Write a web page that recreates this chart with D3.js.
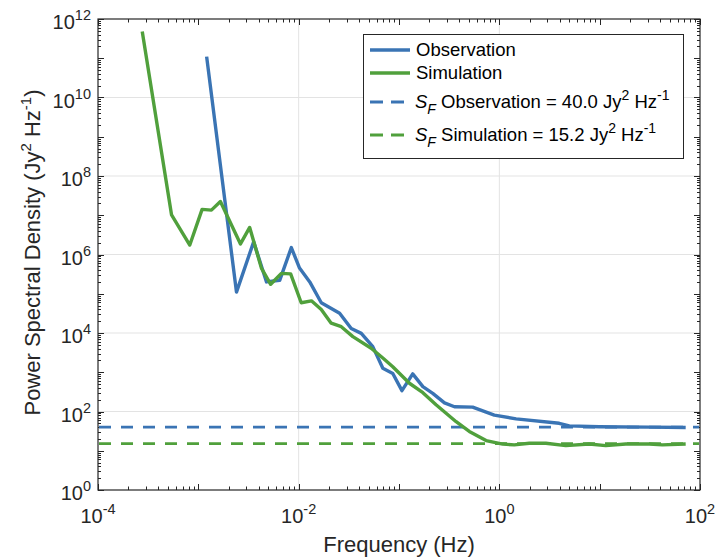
<!DOCTYPE html>
<html>
  <head>
    <meta charset="utf-8">
    <script src="https://d3js.org/d3.v7.min.js"></script>
    <title></title>
    <style>
    body {
      margin: 0;
      background-color: #fff;
    }
    svg {
      display: block;
      font-family: "Liberation Sans", Arial, sans-serif;
    }
    .line {
      fill: none;
      stroke-width: 3.4px;
      stroke-linejoin: round;
    }
    </style>
  </head>
  <body>
    <script type="text/javascript">
      // observation PSD (Hz, Jy^2/Hz)
      let obsFreq = [1.21e-3, 2.4e-3, 3.56e-3, 4.78e-3, 6.47e-3, 8.45e-3, 1.02e-2, 1.29e-2, 1.68e-2, 2.56e-2,
                     3.34e-2, 4.21e-2, 5.48e-2, 6.9e-2, 8.67e-2, 0.107, 0.137, 0.173, 0.217, 0.284,
                     0.357, 0.542, 0.891, 1.47, 3.95, 4.98, 9.9, 31.1, 72]
      let obsPsd = [1.1e11, 1.1e5, 2.1e6, 2.0e5, 2.2e5, 1.5e6, 4.5e5, 2.0e5, 5.9e4, 3.2e4,
                    1.3e4, 9.8e3, 4.5e3, 1.26e3, 930, 340, 910, 430, 290, 166,
                    132, 129, 81, 65, 50, 43, 41, 40, 39]
      // simulation PSD
      let simFreq = [2.76e-4, 5.41e-4, 8.22e-4, 1.09e-3, 1.35e-3, 1.66e-3, 2.63e-3, 3.25e-3, 4.25e-3, 5.26e-3,
                     6.72e-3, 8.32e-3, 1.06e-2, 1.34e-2, 1.68e-2, 2.11e-2, 2.66e-2, 3.47e-2, 5.28e-2, 6.9e-2,
                     8.67e-2, 0.127, 0.173, 0.234, 0.371, 0.502, 0.738, 1.08, 1.41, 1.99,
                     2.91, 4.6, 7.87, 11.5, 18.2, 31.1, 42.2, 72]
      let simPsd = [4.8e11, 1.02e7, 1.74e6, 1.41e7, 1.35e7, 2.24e7, 1.86e6, 4.9e6, 4.5e5, 1.74e5,
                    3.3e5, 3.2e5, 5.9e4, 6.6e4, 3.98e4, 1.78e4, 1.45e4, 8.1e3, 4.1e3, 2.3e3,
                    1.38e3, 525, 302, 148, 55, 31, 18.2, 14.8, 14.1, 15.5,
                    15.5, 13.5, 14.8, 13.5, 14.8, 14.8, 14.1, 14.8]
      let sfObs = 40.0
      let sfSim = 15.2
      let xTickExp = [-4, -2, 0, 2]
      let yTickExp = [0, 2, 4, 6, 8, 10, 12]

      let w = 717
      let h = 558
      let m = {left: 98, right: 700, top: 19, bottom: 490}
      let blue = '#3a74b4'
      let green = '#50a03c'
      let ink = '#262626'

      let svg = d3.select('body')
                  .append('svg')
                  .attr('width', w)
                  .attr('height', h)

      let xScale = d3.scaleLog().domain([1e-4, 1e2]).range([m.left, m.right])
      let yScale = d3.scaleLog().domain([1, 1e12]).range([m.bottom, m.top])

      // grid at labelled ticks
      svg.selectAll('.gx')
         .data(xTickExp.slice(1, -1))
         .enter()
         .append('line')
         .attr('x1', d => xScale(Math.pow(10, d))).attr('x2', d => xScale(Math.pow(10, d)))
         .attr('y1', m.top).attr('y2', m.bottom)
         .style('stroke', '#e3e3e3').style('stroke-width', 1)
      svg.selectAll('.gy')
         .data(yTickExp.slice(1, -1))
         .enter()
         .append('line')
         .attr('y1', d => yScale(Math.pow(10, d))).attr('y2', d => yScale(Math.pow(10, d)))
         .attr('x1', m.left).attr('x2', m.right)
         .style('stroke', '#e3e3e3').style('stroke-width', 1)

      // ticks on all four sides, MATLAB style (inside)
      let xMinor = [], yMinor = []
      for (let e = -4; e < 2; e++) for (let k = 2; k <= 9; k++) xMinor.push(k * Math.pow(10, e))
      for (let e = 0; e < 12; e++) for (let k = 2; k <= 9; k++) yMinor.push(k * Math.pow(10, e))
      let xMajor = d3.range(-4, 3).map(e => Math.pow(10, e))
      let yMajor = d3.range(0, 13).map(e => Math.pow(10, e))

      let ticks = svg.append('g').style('stroke', ink).style('stroke-width', 1)
      function xTicks(vals, len) {
        vals.forEach(v => {
          let x = Math.round(xScale(v)) + 0.5
          ticks.append('line').attr('x1', x).attr('x2', x).attr('y1', m.bottom).attr('y2', m.bottom - len)
          ticks.append('line').attr('x1', x).attr('x2', x).attr('y1', m.top).attr('y2', m.top + len)
        })
      }
      function yTicks(vals, len) {
        vals.forEach(v => {
          let y = Math.round(yScale(v)) + 0.5
          ticks.append('line').attr('y1', y).attr('y2', y).attr('x1', m.left).attr('x2', m.left + len)
          ticks.append('line').attr('y1', y).attr('y2', y).attr('x1', m.right).attr('x2', m.right - len)
        })
      }
      xTicks(xMinor, 3.5)
      xTicks(xMajor, 6)
      yTicks(yMinor, 3)
      yTicks(yMajor, 6)

      svg.append('rect')
         .attr('x', m.left).attr('y', m.top)
         .attr('width', m.right - m.left).attr('height', m.bottom - m.top)
         .style('fill', 'none').style('stroke', ink).style('stroke-width', 1.2)

      // tick labels
      function pow10(sel, e) {
        sel.append('tspan').text('10')
        sel.append('tspan').attr('dy', -9).style('font-size', '14.5px').text(e)
      }
      xTickExp.forEach(e => {
        let t = svg.append('text')
                   .attr('x', xScale(Math.pow(10, e)))
                   .attr('y', 523)
                   .attr('text-anchor', 'middle')
                   .style('font-size', '20px').style('fill', ink)
        pow10(t, e)
      })
      yTickExp.forEach(e => {
        let t = svg.append('text')
                   .attr('x', 91)
                   .attr('y', yScale(Math.pow(10, e)) + 10)
                   .attr('text-anchor', 'end')
                   .style('font-size', '20px').style('fill', ink)
        pow10(t, e)
      })

      // axis titles
      svg.append('text')
         .attr('x', (m.left + m.right) / 2).attr('y', 552)
         .attr('text-anchor', 'middle')
         .style('font-size', '22px').style('fill', ink)
         .text('Frequency (Hz)')
      let yl = svg.append('text')
                  .attr('transform', `translate(40, ${(m.top + m.bottom) / 2 - 2}) rotate(-90)`)
                  .attr('text-anchor', 'middle')
                  .style('font-size', '22px').style('fill', ink)
      yl.append('tspan').text('Power Spectral Density (Jy')
      yl.append('tspan').attr('dy', -9).style('font-size', '15px').text('2')
      yl.append('tspan').attr('dy', 9).text(' Hz')
      yl.append('tspan').attr('dy', -9).style('font-size', '15px').text('-1')
      yl.append('tspan').attr('dy', 9).text(')')

      // S_F levels
      let sfLines = [{v: sfObs, c: blue}, {v: sfSim, c: green}]
      svg.selectAll('.sf')
         .data(sfLines)
         .enter()
         .append('line')
         .attr('x1', m.left + 1).attr('x2', m.right - 1)
         .attr('y1', d => yScale(d.v)).attr('y2', d => yScale(d.v))
         .style('stroke', d => d.c).style('stroke-width', 2.8)
         .style('stroke-dasharray', '12,10')

      let valueline = d3.line()
                        .x(d => xScale(d[0]))
                        .y(d => yScale(d[1]))

      svg.append('path')
         .attr('class', 'line')
         .datum(obsFreq.map((f, i) => [f, obsPsd[i]]))
         .attr('d', valueline)
         .style('stroke', blue)
      svg.append('path')
         .attr('class', 'line')
         .datum(simFreq.map((f, i) => [f, simPsd[i]]))
         .attr('d', valueline)
         .style('stroke', green)

      // legend
      let lg = svg.append('g')
      lg.append('rect')
        .attr('x', 363.5).attr('y', 34.5).attr('width', 320).attr('height', 124)
        .style('fill', '#fff').style('stroke', ink).style('stroke-width', 1)
      let rows = [
        {y: 50, c: blue, dash: null},
        {y: 73, c: green, dash: null},
        {y: 102, c: blue, dash: '13,8'},
        {y: 135, c: green, dash: '13,8'}
      ]
      rows.forEach(r => {
        lg.append('line')
          .attr('x1', 370).attr('x2', 410).attr('y1', r.y).attr('y2', r.y)
          .style('stroke', r.c).style('stroke-width', r.dash ? 2.8 : 3.4)
          .style('stroke-dasharray', r.dash)
      })
      lg.append('text').attr('x', 416).attr('y', 56).style('font-size', '18.5px').style('fill', '#000').text('Observation')
      lg.append('text').attr('x', 416).attr('y', 79).style('font-size', '18.5px').style('fill', '#000').text('Simulation')
      let sfText = [{y: 108, name: 'Observation', v: sfObs}, {y: 141, name: 'Simulation', v: sfSim}]
      sfText.forEach(s => {
        let t = lg.append('text').attr('x', 415).attr('y', s.y)
                  .style('font-size', '18.5px').style('fill', '#000')
        t.append('tspan').style('font-style', 'italic').text('S')
        t.append('tspan').attr('dy', 6).style('font-style', 'italic').style('font-size', '14px').text('F')
        t.append('tspan').attr('dy', -6).text(` ${s.name} = ${s.v.toFixed(1)} Jy`)
        t.append('tspan').attr('dy', -8).style('font-size', '14px').text('2')
        t.append('tspan').attr('dy', 8).text(' Hz')
        t.append('tspan').attr('dy', -8).style('font-size', '14px').text('-1')
      })
    </script>
  </body>
</html>
